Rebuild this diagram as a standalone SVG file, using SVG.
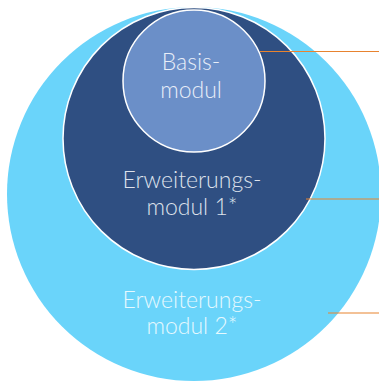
<svg xmlns="http://www.w3.org/2000/svg" width="379" height="384" viewBox="0 0 379 384">
<style>
.t{font-family:Lato,"Liberation Sans",sans-serif;font-weight:300;font-size:23px;text-anchor:middle}
.c{stroke:#fff;stroke-width:1.5}
.ln{stroke:#e8832f;stroke-width:1.2;fill:none}
</style>
<rect width="379" height="384" fill="#fff"/>
<g id="outer">
<circle cx="194" cy="194" r="187" fill="#6ad4fa"/>
<text class="t" x="192" y="308" fill="#e6f8fe">Erweiterungs-</text>
<text class="t" x="192" y="334" fill="#e6f8fe">modul 2*</text>
</g>
<g id="middle">
<circle class="c" cx="194" cy="138.5" r="131" fill="#2f4f82"/>
<text class="t" x="192" y="188" fill="#dde2ec">Erweiterungs-</text>
<text class="t" x="192" y="215" fill="#dde2ec">modul 1*</text>
</g>
<g id="inner">
<circle class="c" cx="194" cy="81" r="71" fill="#6b8fc8"/>
<text class="t" x="191" y="70" fill="#e8eef8">Basis-</text>
<text class="t" x="191" y="98" fill="#e8eef8">modul</text>
</g>
<g id="connectors">
<line class="ln" x1="260" y1="51.5" x2="379" y2="51.5"/>
<line class="ln" x1="306" y1="199" x2="379" y2="199" stroke="#d9a06a"/>
<line class="ln" x1="328" y1="313" x2="379" y2="313"/>
</g>
</svg>
